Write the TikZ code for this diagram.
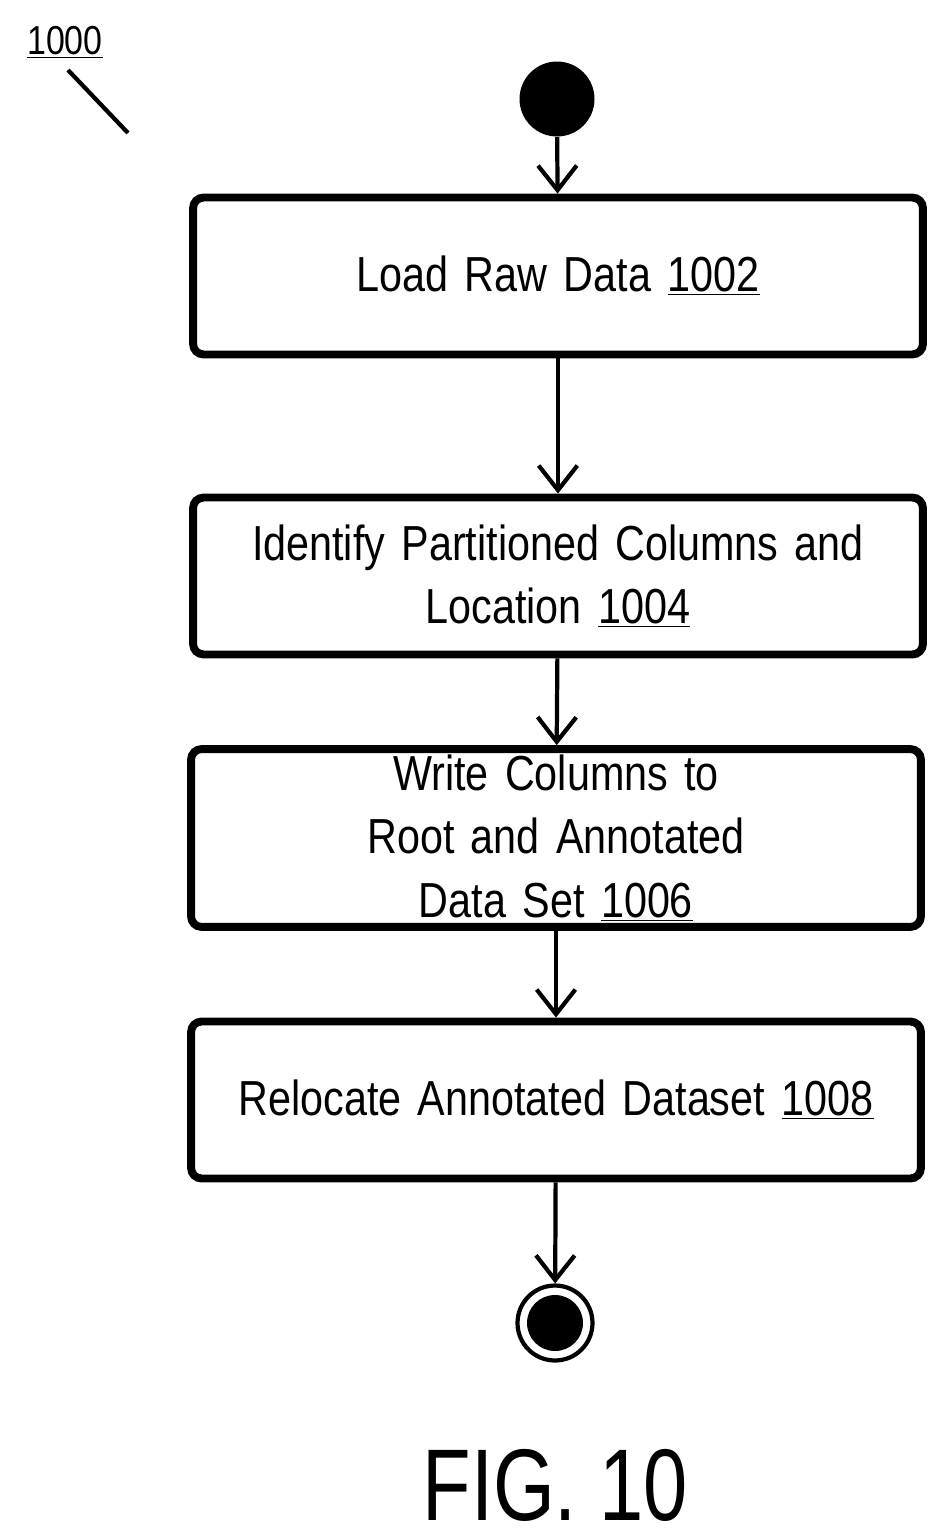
\documentclass[tikz,border=0pt]{standalone}
\usepackage{fontspec}
\setmainfont{Liberation Sans}
\newfontfamily\narrowfont[FakeStretch=0.84]{Liberation Sans}
\newfontfamily\figfont[FakeStretch=0.78]{Liberation Sans}
\usetikzlibrary{positioning,arrows.meta}
\tikzset{
  stage/.style={draw, line width=4.5pt, rounded corners=6pt, minimum width=14.6cm, minimum height=3.14cm, text width=14cm, align=center, font=\narrowfont\fontsize{28}{36}\selectfont},
  flow/.style={-{Straight Barb[length=14pt,width=22pt,line width=2.4pt]}, line width=2.4pt},
}
\begin{document}
\begin{tikzpicture}[x=0.02cm,y=-0.02cm]
\useasboundingbox (0,0) rectangle (948,1538);
\node[fill=black, circle, minimum size=1.5cm, inner sep=0] (start) at (557,99) {};
\node[stage] (load) at (558,276) {Load Raw Data \underline{1002}};
\node[stage] (ident) at (558,576) {Identify Partitioned Columns and\\Location \underline{1004}};
\node[stage] (write) at (556,838) {Write Columns to Root and Annotated\\Data Set \underline{1006}};
\node[stage] (reloc) at (556,1100) {Relocate Annotated Dataset \underline{1008}};
\node[draw, line width=2.4pt, circle, minimum size=1.5cm, inner sep=0] (stop) at (555,1323) {};
\fill (stop) circle (0.56cm);
\draw[flow] (start) -- (load);
\draw[flow] (load) -- (ident);
\draw[flow] (ident) -- (write);
\draw[flow] (write) -- (reloc);
\draw[flow] (reloc) -- (stop);
\node[font=\narrowfont\fontsize{23}{26}\selectfont, inner sep=0] (num) at (65,42) {\underline{1000}};
\coordinate (tip) at (128,133);
\draw[line width=2.4pt] (68,70) -- (tip);
\node[font=\figfont\fontsize{58}{62}\selectfont] (fig) at (555,1485) {FIG. 10};
\end{tikzpicture}
\end{document}
